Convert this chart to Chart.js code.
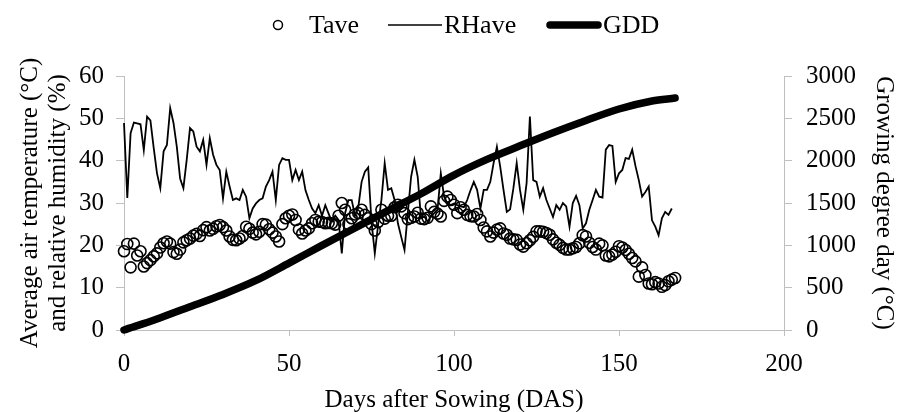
<!DOCTYPE html>
<html>
<head>
<meta charset="utf-8">
<script src="https://cdn.jsdelivr.net/npm/chart.js@4.4.0/dist/chart.umd.min.js"></script>
<style>
  html, body { margin: 0; padding: 0; background: #fff; }
  #chart { display: block; }
</style>
</head>
<body>
<canvas id="chart" width="898" height="412"></canvas>
<script>
// daily average air temperature, day 0 .. 167
const taveValues = [
  18.6, 20.3, 14.8, 20.4, 17.6, 18.6, 15.0, 15.8, 16.5, 17.4,
  18.1, 19.5, 20.5, 20.9, 20.4, 18.4, 18.0, 19.0, 20.7, 21.2,
  21.6, 22.3, 22.7, 22.2, 23.6, 24.3, 23.5, 23.9, 24.5, 24.8,
  24.3, 23.5, 22.1, 21.3, 21.2, 21.6, 22.2, 24.4, 23.9, 23.0,
  22.6, 23.2, 25.0, 24.9, 23.8, 23.0, 22.1, 20.9, 25.0, 26.4,
  27.0, 27.3, 26.0, 23.7, 22.8, 23.5, 24.0, 25.2, 26.0, 25.6,
  25.5, 25.2, 25.3, 25.2, 24.9, 27.0, 30.0, 28.4, 25.0, 26.4,
  27.3, 27.6, 28.4, 27.2, 26.4, 25.0, 23.5, 25.5, 28.4, 26.3,
  27.0, 27.0, 29.0, 29.6, 29.2, 27.6, 26.2, 26.5, 26.8, 27.7,
  26.3, 26.2, 26.5, 29.2, 27.9, 27.5, 26.8, 30.5, 31.5, 30.7,
  29.6, 27.6, 29.0, 28.4, 27.2, 26.9, 26.8, 27.4, 26.0, 24.2,
  23.3, 22.1, 23.0, 23.7, 24.0, 22.8, 22.5, 21.6, 21.4, 21.3,
  20.2, 19.7, 20.5, 21.2, 22.0, 23.3, 23.3, 23.2, 22.9, 22.5,
  21.4, 20.6, 20.1, 19.4, 19.0, 19.0, 19.3, 19.6, 20.5, 22.4,
  22.1, 20.6, 19.6, 19.0, 20.4, 20.0, 17.6, 17.4, 17.8, 18.5,
  19.8, 19.5, 18.9, 18.0, 17.0, 16.2, 12.6, 14.8, 13.0, 11.0,
  10.8, 11.3, 11.0, 10.2, 10.6, 11.5, 11.9, 12.3
];

// daily average relative humidity, day 0 .. 166
const rhValues = [
  48.9, 31.2, 46.5, 49.0, 48.8, 48.6, 42.5, 50.4, 49.5, 43.0,
  37.0, 33.5, 42.2, 43.7, 52.4, 48.9, 43.3, 35.8, 33.5, 40.2,
  47.7, 46.9, 43.3, 42.2, 44.9, 39.0, 45.3, 41.4, 39.0, 37.8,
  31.1, 37.4, 33.9, 30.7, 31.1, 30.7, 33.1, 31.5, 26.4, 28.7,
  29.9, 30.7, 31.1, 33.9, 35.4, 37.4, 30.7, 39.0, 40.6, 40.2,
  40.2, 35.4, 37.8, 35.4, 37.4, 33.0, 30.7, 28.7, 27.6, 29.5,
  27.0, 29.5, 27.5, 25.6, 27.0, 26.0, 18.1, 27.6, 30.7, 30.7,
  27.0, 29.0, 35.0, 37.4, 38.4, 25.6, 18.1, 24.8, 30.7, 39.4,
  33.1, 33.5, 30.7, 25.2, 22.0, 18.9, 27.6, 36.2, 40.2, 36.2,
  26.4, 26.8, 25.6, 26.8, 27.6, 28.4, 37.0, 31.5, 29.9, 29.5,
  29.9, 29.5, 29.2, 29.0, 30.7, 33.0, 35.0, 33.1, 28.7, 33.1,
  33.1, 35.0, 39.4, 43.3, 38.6, 33.1, 27.9, 28.5, 33.5, 39.4,
  33.1, 28.4, 34.7, 50.4, 35.4, 35.0, 31.5, 33.5, 30.7, 28.7,
  26.7, 29.5, 28.4, 30.0, 29.2, 24.4, 30.0, 31.7, 29.5, 24.0,
  25.2, 28.4, 30.7, 33.1, 31.5, 31.3, 42.6, 43.7, 43.5, 35.0,
  37.0, 37.8, 40.6, 40.4, 42.6, 38.7, 35.4, 31.5, 32.6, 33.9,
  25.9, 24.4, 22.4, 26.4, 27.9, 27.2, 28.7
];

// cumulative growing degree days, read every 10 days
const gddDays = [0, 10, 20, 30, 40, 50, 60, 70, 80, 90, 100, 110, 120, 130, 140, 150, 160, 167];
const gddValues = [0, 130, 275, 420, 585, 790, 1000, 1205, 1410, 1610, 1830, 2015, 2175, 2330, 2475, 2610, 2705, 2740];

const FONT = "'Liberation Serif', 'Times New Roman', serif";
const AXIS_GREY = "#bfbfbf";

const taveData = taveValues.map((v, i) => ({ x: i, y: v }));
const rhData = rhValues.map((v, i) => ({ x: i, y: v }));
const gddData = gddDays.map((d, i) => ({ x: d, y: gddValues[i] }));

// legend drawn by hand so each entry can keep its own marker shape
const legendPlugin = {
  id: "legendRow",
  afterDraw(chart) {
    const ctx = chart.ctx;
    const ds = chart.data.datasets;
    const base = 33;
    ctx.save();
    ctx.fillStyle = "#000";
    ctx.strokeStyle = "#000";
    ctx.font = "26px " + FONT;
    ctx.textBaseline = "alphabetic";

    ctx.beginPath();
    ctx.lineWidth = 1.5;
    ctx.arc(278, 25, 4.5, 0, Math.PI * 2);
    ctx.stroke();
    ctx.fillText(ds[0].label, 309, base);

    ctx.beginPath();
    ctx.lineWidth = 1.5;
    ctx.moveTo(388, 25);
    ctx.lineTo(442, 25);
    ctx.stroke();
    ctx.fillText(ds[1].label, 444, base);

    ctx.beginPath();
    ctx.lineWidth = 7.5;
    ctx.lineCap = "round";
    ctx.moveTo(550, 25);
    ctx.lineTo(598, 25);
    ctx.stroke();
    ctx.fillText(ds[2].label, 603, base);
    ctx.restore();
  }
};

function gridOpts(len) {
  return {
    display: true,
    drawOnChartArea: false,
    drawTicks: true,
    tickLength: len,
    color: AXIS_GREY
  };
}

const plainNumber = (v) => String(v);

new Chart(document.getElementById("chart"), {
  type: "line",
  data: {
    datasets: [
      {
        label: "Tave",
        data: taveData,
        yAxisID: "y",
        showLine: false,
        pointStyle: "circle",
        pointRadius: 5.5,
        pointBorderWidth: 1.6,
        pointBorderColor: "#000",
        pointBackgroundColor: "rgba(0,0,0,0)",
        borderColor: "#000",
        clip: false,
        order: 2
      },
      {
        label: "RHave",
        data: rhData,
        yAxisID: "y",
        borderColor: "#000",
        borderWidth: 1.8,
        pointRadius: 0,
        tension: 0,
        clip: false,
        order: 1
      },
      {
        label: "GDD",
        data: gddData,
        yAxisID: "y1",
        borderColor: "#000",
        borderWidth: 7.5,
        borderCapStyle: "round",
        pointRadius: 0,
        cubicInterpolationMode: "monotone",
        clip: false,
        order: 0
      }
    ]
  },
  options: {
    responsive: false,
    animation: false,
    devicePixelRatio: 1,
    layout: { padding: { top: 76, left: 0, right: 0, bottom: 0 } },
    plugins: {
      legend: { display: false },
      tooltip: { enabled: false }
    },
    scales: {
      x: {
        type: "linear",
        min: 0,
        max: 200,
        ticks: { stepSize: 50, color: "#000", font: { family: FONT, size: 25 }, padding: 13, callback: plainNumber },
        grid: gridOpts(6),
        border: { color: AXIS_GREY, width: 1 },
        title: {
          display: true,
          text: "Days after Sowing (DAS)",
          color: "#000",
          font: { family: FONT, size: 25, lineHeight: 0.9 },
          padding: { top: 0, bottom: 0 }
        },
        afterFit(scale) { scale.height = 82; }
      },
      y: {
        position: "left",
        min: 0,
        max: 60,
        ticks: { stepSize: 10, color: "#000", font: { family: FONT, size: 25 }, padding: 12, callback: plainNumber },
        grid: gridOpts(8),
        border: { color: AXIS_GREY, width: 1 },
        title: {
          display: true,
          text: ["Average air temperature (\u00B0C)", "and relative humidity (%)"],
          color: "#000",
          font: { family: FONT, size: 25, lineHeight: 1.1 },
          padding: { top: 17, bottom: 0 }
        },
        afterFit(scale) { scale.width = 124; }
      },
      y1: {
        position: "right",
        min: 0,
        max: 3000,
        ticks: { stepSize: 500, color: "#000", font: { family: FONT, size: 25 }, padding: 14, callback: plainNumber },
        grid: gridOpts(8),
        border: { color: AXIS_GREY, width: 1 },
        title: {
          display: true,
          text: "Growing degree day (\u00B0C)",
          color: "#000",
          font: { family: FONT, size: 25, lineHeight: 1.1 },
          padding: { top: 1, bottom: 0 }
        },
        afterFit(scale) { scale.width = 114; }
      }
    }
  },
  plugins: [legendPlugin]
});
</script>
</body>
</html>
